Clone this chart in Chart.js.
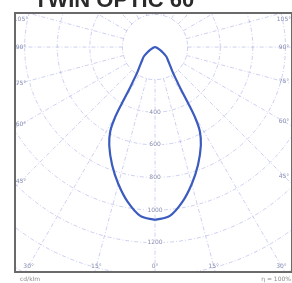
<!DOCTYPE html>
<html><head><meta charset="utf-8">
<script src="https://cdn.jsdelivr.net/npm/chart.js@4.4.0/dist/chart.umd.min.js"></script>
<style>html,body{margin:0;padding:0;background:#fff;overflow:hidden}canvas{display:block}</style>
</head><body>
<canvas id="c" width="292" height="283"></canvas>
<script>
// ---- data ----
const TITLE = 'TWIN OPTIC 60';
const ANGLES = [0, 5, 10, 15, 20, 25, 28, 29.5, 30.5, 31.5, 33, 35, 40, 45, 50, 55, 60, 70, 80, 90];
const INTENSITY = [1060, 1040, 965, 870, 770, 665, 585, 505, 400, 300, 240, 190, 140, 110, 90, 60, 35, 12, 4, 0];
const RING_VALUES = [200, 400, 600, 800, 1000, 1200, 1400, 1600, 1800];
const RING_LABEL_VALUES = [400, 600, 800, 1000, 1200];
const RING_LABELS = ['400', '600', '800', '1000', '1200'];
const SPOKE_STEP = 15;
const ANGLE_LABEL_VALUES = [-105, -90, -75, -60, -45, -30, -15, 0, 15, 30, 45, 60, 75, 90, 105];
const ANGLE_LABELS = ['105°', '90°', '75°', '60°', '45°', '30°', '15°', '0°', '15°', '30°', '45°', '60°', '75°', '90°', '105°'];
const UNIT_LABEL = 'cd/klm';
const EFF_LABEL = 'η = 100%';

// ---- build polar curve points (x = I sinθ, y = -I cosθ) ----
const rad = d => d * Math.PI / 180;
const right = ANGLES.map((a, i) => ({ x: INTENSITY[i] * Math.sin(rad(a)), y: -INTENSITY[i] * Math.cos(rad(a)) }));
const left = ANGLES.slice().reverse().map((a, j) => {
  const i = ANGLES.length - 1 - j;
  return { x: -INTENSITY[i] * Math.sin(rad(a)), y: -INTENSITY[i] * Math.cos(rad(a)) };
});
const curve = right.concat(left.slice(1));

const GRID_COLOR = 'rgba(130,140,220,0.45)';
const LABEL_COLOR = '#858bb0';

const polarPlugin = {
  id: 'polarGrid',
  beforeDatasetsDraw(chart) {
    const { ctx, chartArea: a, scales: { x, y } } = chart;
    const cx = x.getPixelForValue(0), cy = y.getPixelForValue(0);
    ctx.save();
    ctx.beginPath(); ctx.rect(a.left, a.top, a.right - a.left, a.bottom - a.top); ctx.clip();
    ctx.strokeStyle = GRID_COLOR; ctx.lineWidth = 0.9; ctx.setLineDash([4, 2, 1, 2]);
    RING_VALUES.forEach(v => {
      const r = Math.abs(y.getPixelForValue(-v) - cy);
      ctx.beginPath(); ctx.arc(cx, cy, r, 0, Math.PI * 2); ctx.stroke();
    });
    const r0 = Math.abs(y.getPixelForValue(-RING_VALUES[0]) - cy);
    for (let d = 0; d < 360; d += SPOKE_STEP) {
      const sx = Math.sin(rad(d)), sy = Math.cos(rad(d));
      ctx.beginPath();
      ctx.moveTo(cx + r0 * sx, cy + r0 * sy);
      ctx.lineTo(cx + 500 * sx, cy + 500 * sy);
      ctx.stroke();
    }
    ctx.restore();
  },
  afterDatasetsDraw(chart) {
    const { ctx, chartArea: a, scales: { x, y } } = chart;
    const cx = x.getPixelForValue(0), cy = y.getPixelForValue(0);
    ctx.save();
    ctx.font = '6px "DejaVu Sans", sans-serif';
    ctx.textBaseline = 'middle'; ctx.textAlign = 'center';
    // ring labels
    RING_LABEL_VALUES.forEach((v, i) => {
      const py = y.getPixelForValue(-v);
      const w = ctx.measureText(RING_LABELS[i]).width;
      ctx.fillStyle = '#fff'; ctx.fillRect(cx - w / 2 - 1, py - 3, w + 2, 6);
      ctx.fillStyle = LABEL_COLOR; ctx.fillText(RING_LABELS[i], cx, py);
    });
    // angle labels
    const L = a.left + 6, R = a.right - 8, B = a.bottom - 6, T = a.top + 6;
    ANGLE_LABEL_VALUES.forEach((d, i) => {
      const sx = Math.sin(rad(d)), sy = Math.cos(rad(d));
      let t = Infinity;
      if (Math.abs(sx) > 1e-6) t = Math.min(t, ((sx > 0 ? R : L) - cx) / sx);
      if (sy > 1e-6) t = Math.min(t, (B - cy) / sy);
      let px = cx + t * sx, py = cy + t * sy;
      px = Math.max(L, Math.min(R, px)); py = Math.max(T, Math.min(B, py));
      ctx.fillStyle = LABEL_COLOR; ctx.fillText(ANGLE_LABELS[i], px, py);
    });
    // frame
    ctx.strokeStyle = '#6a6a6a'; ctx.lineWidth = 2; ctx.setLineDash([]);
    ctx.strokeRect(a.left, a.top, a.right - a.left, a.bottom - a.top);
    // footer texts
    ctx.fillStyle = '#8a8a8a'; ctx.font = '6px "DejaVu Sans", sans-serif';
    ctx.textAlign = 'left'; ctx.fillText(UNIT_LABEL, a.left + 5, a.bottom + 7);
    ctx.textAlign = 'right'; ctx.fillText(EFF_LABEL, chart.width - 1, a.bottom + 7);
    // title (cropped at top)
    ctx.fillStyle = '#2a2a2a'; ctx.font = 'bold 22px "Liberation Sans", sans-serif';
    ctx.textAlign = 'left'; ctx.textBaseline = 'alphabetic';
    ctx.fillText(TITLE, 34, 7);
    ctx.restore();
  }
};

new Chart(document.getElementById('c'), {
  type: 'scatter',
  data: { datasets: [{
    data: curve, showLine: true, borderColor: '#3b5bbf', borderWidth: 2.2,
    pointRadius: 0, tension: 0.35, fill: false
  }] },
  options: {
    responsive: false, devicePixelRatio: 1, animation: false,
    layout: { padding: { left: 15, top: 13, right: 0, bottom: 11 } },
    plugins: { legend: { display: false }, tooltip: { enabled: false } },
    scales: {
      x: { type: 'linear', min: -859, max: 840, display: false },
      y: { type: 'linear', min: -1380, max: 209, display: false }
    }
  },
  plugins: [polarPlugin]
});
</script>
</body></html>
